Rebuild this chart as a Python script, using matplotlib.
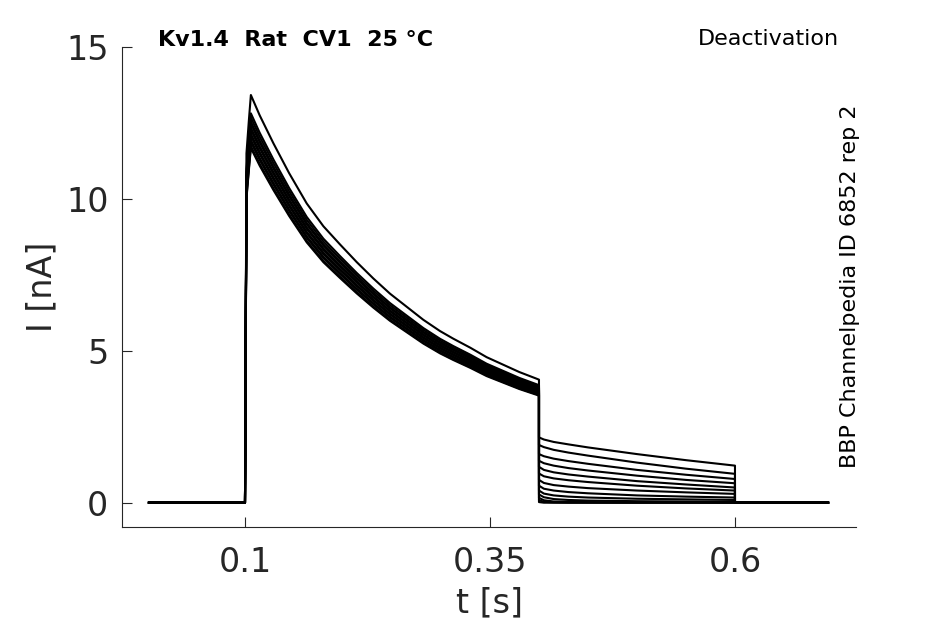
from matplotlib import pyplot as plt
import numpy as np

# top trace of the decay
t_rise = [0.1, 0.1015, 0.104]
i_rise = [0.0, 11.5, 12.6]
t_decay = [0.106, 0.115, 0.129, 0.145, 0.163, 0.180, 0.197, 0.214, 0.231,
           0.248, 0.265, 0.282, 0.299, 0.3125, 0.330, 0.3466, 0.365, 0.380,
           0.3977, 0.400]
i_decay = [13.42, 12.75, 11.83, 10.85, 9.85, 9.10, 8.50, 7.92, 7.38,
           6.88, 6.45, 6.02, 5.65, 5.40, 5.10, 4.79, 4.52, 4.30,
           4.08, 4.05]

# each sweep relative to the top one
sweep_scale = [1.0, 0.955, 0.945, 0.935, 0.93, 0.92, 0.915, 0.905, 0.90,
               0.89, 0.885, 0.875, 0.87]

# tail currents after the step (one row per sweep)
t_tail = [0.4, 0.405, 0.415, 0.43, 0.45, 0.5, 0.55, 0.6]
i_tail = [
    [2.15, 2.08, 2.00, 1.92, 1.82, 1.60, 1.40, 1.22],
    [1.90, 1.83, 1.74, 1.65, 1.55, 1.32, 1.12, 0.95],
    [1.60, 1.53, 1.45, 1.37, 1.28, 1.08, 0.92, 0.78],
    [1.38, 1.30, 1.22, 1.14, 1.06, 0.89, 0.75, 0.64],
    [1.18, 1.08, 1.00, 0.93, 0.86, 0.71, 0.60, 0.50],
    [0.96, 0.87, 0.80, 0.74, 0.68, 0.56, 0.47, 0.40],
    [0.75, 0.65, 0.58, 0.53, 0.48, 0.40, 0.34, 0.29],
    [0.56, 0.46, 0.40, 0.35, 0.31, 0.24, 0.20, 0.17],
    [0.40, 0.30, 0.24, 0.20, 0.17, 0.13, 0.11, 0.09],
    [0.27, 0.18, 0.12, 0.09, 0.07, 0.05, 0.04, 0.03],
    [0.16, 0.08, 0.04, 0.03, 0.02, 0.01, 0.01, 0.00],
    [0.08, 0.03, 0.01, 0.00, 0.00, 0.00, 0.00, 0.00],
    [0.02, 0.00, 0.00, 0.00, 0.00, 0.00, 0.00, 0.00],
]

t_start, t_end = 0.002, 0.695

gray = '#262626'
plt.rcParams['font.family'] = 'DejaVu Sans'

fig = plt.figure(figsize=(9.45, 6.24), dpi=100)
ax = fig.add_axes([122.3 / 945, 1 - 526.7 / 624, (856 - 122.3) / 945, (526.7 - 47) / 624])

for s, tail in zip(sweep_scale, i_tail):
    t = np.concatenate([[t_start], t_rise, t_decay, t_tail, [0.6, t_end]])
    i = np.concatenate([[0.0], np.array(i_rise) * s, np.array(i_decay) * s,
                        tail, [0.0, 0.0]])
    ax.plot(t, i, color='black', lw=1.5)

ax.set_xlim(-0.0252, 0.7235)
ax.set_ylim(-0.79, 15)
ax.set_xticks([0.1, 0.35, 0.6])
ax.set_xticklabels(['0.1', '0.35', '0.6'])
ax.set_yticks([0, 5, 10, 15])

for side in ['top', 'right']:
    ax.spines[side].set_visible(False)
for side in ['left', 'bottom']:
    ax.spines[side].set_color(gray)
    ax.spines[side].set_linewidth(0.8)

ax.tick_params(axis='both', direction='in', length=7, width=0.8, colors=gray,
               labelsize=24)
ax.tick_params(axis='x', pad=14)
ax.tick_params(axis='y', pad=10)

ax.set_xlabel('t [s]', fontsize=24, color=gray)
ax.set_ylabel('I [nA]', fontsize=24, color=gray)
ax.xaxis.set_label_coords(0.5, -0.159)
ax.yaxis.set_label_coords(-0.1094, 0.5)
ax.xaxis.label.set_va('center')
ax.yaxis.label.set_va('center')

fig.text(158 / 945, 1 - 40 / 624, 'Kv1.4  Rat  CV1  25 °C', fontsize=16,
         fontweight='bold', ha='left', va='center')
fig.text(839 / 945, 1 - 39 / 624, 'Deactivation', fontsize=16,
         ha='right', va='center')
fig.text(850 / 945, 1 - 286 / 624, 'BBP Channelpedia ID 6852 rep 2',
         fontsize=16, rotation=90, ha='center', va='center')

fig.savefig('out.png', dpi=100)
